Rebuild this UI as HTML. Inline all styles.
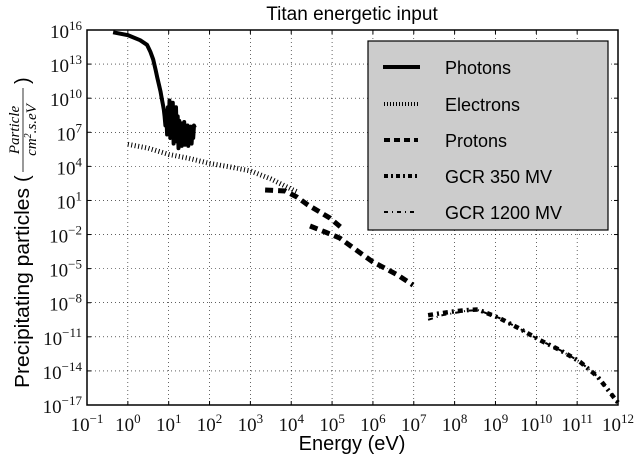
<!DOCTYPE html>
<html><head><meta charset="utf-8"><style>
body{margin:0;background:#fff}
svg{display:block}
text{font-family:"Liberation Sans",sans-serif}
.tk{font-family:"Liberation Serif",serif;font-size:19px;fill:#111}
.fr{font-family:"Liberation Serif",serif;font-style:italic;font-size:15px}
</style></head><body>
<svg id="c" width="635" height="461" viewBox="0 0 635 461">
<text x="352" y="20" font-size="19" text-anchor="middle">Titan energetic input</text>
<text x="352" y="450" font-size="20" text-anchor="middle">Energy (eV)</text>
<g transform="translate(22,210) rotate(-90)">
<text x="-178" y="7" font-size="20" textLength="200" lengthAdjust="spacingAndGlyphs">Precipitating particles</text>
<text x="28" y="7" font-size="20">(</text>
<text x="80" y="-3" class="fr" text-anchor="middle">Particle</text>
<line x1="38" y1="1" x2="122" y2="1" stroke="#000" stroke-width="0.8"/>
<text x="80" y="14" class="fr" text-anchor="middle">cm<tspan font-size="10" dy="-5">2</tspan><tspan dy="5">.s.eV</tspan></text>
<text x="126" y="7" font-size="20">)</text>
</g>
<g id="grid"></g><g id="series"></g><g id="axes"></g>
<g>
<rect x="368" y="41" width="240" height="189" fill="#cccccc" stroke="#000" stroke-width="1.2"/>
<g><line x1="383" y1="67" x2="420" y2="67" stroke="#000" stroke-width="4"/><text x="445" y="74" font-size="18">Photons</text></g>
<g><line x1="384" y1="104" x2="418" y2="104" stroke="#000" stroke-width="4" stroke-dasharray="1,2"/><text x="445" y="111" font-size="18">Electrons</text></g>
<g><line x1="384" y1="140" x2="418" y2="140" stroke="#000" stroke-width="4" stroke-dasharray="6,4"/><text x="445" y="147" font-size="18">Protons</text></g>
<g><line x1="384" y1="176" x2="418" y2="176" stroke="#000" stroke-width="4" stroke-dasharray="4,3,2,3"/><text x="445" y="183" font-size="18">GCR 350 MV</text></g>
<g><line x1="384" y1="212" x2="418" y2="212" stroke="#000" stroke-width="2" stroke-dasharray="4,4,1,4"/><text x="445" y="219" font-size="18">GCR 1200 MV</text></g>
</g>
</svg>
<script>
// data (log10 energy, log10 flux)
const xTicks=[-1,0,1,2,3,4,5,6,7,8,9,10,11,12];
const yTicks=[16,13,10,7,4,1,-2,-5,-8,-11,-14,-17];
const photonE=[-0.36,0,0.3,0.47,0.55,0.62,0.68,0.72,0.76,0.8,0.83,0.86,0.88,0.9,0.92,0.94,0.96,0.98,1.0,1.02,1.04,1.06,1.08,1.1,1.12,1.14,1.16,1.18,1.2,1.22,1.24,1.26,1.28,1.3,1.32,1.34,1.36,1.38,1.4,1.42,1.44,1.46,1.48,1.5,1.52,1.54,1.56,1.58,1.6,1.62,1.64];
const photonF=[15.8,15.55,15.1,14.7,14.1,13.4,12.5,11.8,11.2,10.6,10.0,9.4,9.0,8.4,7.6,8.9,6.8,9.2,7.0,9.8,6.5,9.0,7.3,9.6,6.0,8.6,6.9,9.2,6.2,8.4,5.6,8.0,6.6,7.8,5.8,7.4,6.4,7.9,5.9,7.2,6.5,7.6,5.8,7.0,6.3,7.5,6.0,7.2,6.5,7.6,7.4];
const electronE=[0,0.5,1,1.5,2,2.5,3,3.5,4,4.18];
const electronF=[5.94,5.6,5.05,4.7,4.26,3.95,3.6,2.9,2.0,1.7];
const protonE1=[3.36,3.85,4.14,4.41,4.70,4.95,5.24];
const protonF1=[1.92,1.83,1.30,0.6,-0.02,-0.55,-1.43];
const protonE2=[4.46,4.83,5.19,5.49,5.73,6.0,6.29,6.61,6.98];
const protonF2=[-1.25,-1.78,-2.31,-3.1,-3.72,-4.42,-4.95,-5.57,-6.45];
const gcr350E=[7.35,7.7,8.0,8.3,8.57,9.1,9.6,10.09,10.6,11.07,11.5,12.0];
const gcr350F=[-9.1,-8.9,-8.75,-8.65,-8.6,-9.35,-10.3,-11.3,-12.2,-13.2,-14.5,-16.8];
const gcr1200E=[7.35,7.7,8.0,8.3,8.57,9.1,9.6,10.09,10.6,11.07,11.5,12.0];
const gcr1200F=[-9.5,-9.1,-8.9,-8.7,-8.65,-9.35,-10.3,-11.3,-12.2,-13.2,-14.5,-16.8];

const L=87,R=618,T=30,B=405;
const sx=v=>L+(v-(-1))/13*(R-L);
const sy=v=>T+(16-v)/33*(B-T);
const NS="http://www.w3.org/2000/svg";
function mk(tag,attrs,parent){const e=document.createElementNS(NS,tag);for(const k in attrs)e.setAttribute(k,attrs[k]);parent.appendChild(e);return e;}
const grid=document.getElementById('grid'),axes=document.getElementById('axes'),ser=document.getElementById('series');
xTicks.forEach(t=>{
 const x=sx(t);
 const g=mk('line',{x1:x,y1:T,x2:x,y2:B,stroke:'#000','stroke-width':0.6,'stroke-dasharray':'1,3'},grid);
 
 
 mk('line',{x1:x,y1:B,x2:x,y2:B-4,stroke:'#000'},axes);
 mk('line',{x1:x,y1:T,x2:x,y2:T+4,stroke:'#000'},axes);
 const tx=mk('text',{x:x,y:431,'text-anchor':'middle',class:'tk'},axes);
 
 
 tx.innerHTML='10<tspan font-size="13" dy="-8">'+(t<0?'−'+(-t):t)+'</tspan>';
});
yTicks.forEach(t=>{
 const y=sy(t);
 const g=mk('line',{x1:L,y1:y,x2:R,y2:y,stroke:'#000','stroke-width':0.6,'stroke-dasharray':'1,3'},grid);
 
 
 mk('line',{x1:L,y1:y,x2:L+4,y2:y,stroke:'#000'},axes);
 mk('line',{x1:R,y1:y,x2:R-4,y2:y,stroke:'#000'},axes);
 const tx=mk('text',{x:82,y:y+8,'text-anchor':'end',class:'tk'},axes);
 
 
 tx.innerHTML='10<tspan font-size="13" dy="-8">'+(t<0?'−'+(-t):t)+'</tspan>';
});
const fr=mk('rect',{x:L,y:T,width:R-L,height:B-T,fill:'none',stroke:'#000','stroke-width':1.5},axes);


function line(xs,ys,style,name){
 const d=xs.map((v,i)=>(i?'L':'M')+sx(v).toFixed(1)+','+sy(ys[i]).toFixed(1)).join('');
 const p=mk('path',Object.assign({d:d,fill:'none',stroke:'#000'},style),ser);
 
 
}
line(electronE,electronF,{'stroke-width':5,'stroke-dasharray':'1,2.5'},'electrons-line');
line(photonE,photonF,{'stroke-width':4,'stroke-linejoin':'round'},'photons-line');
line(protonE1,protonF1,{'stroke-width':5,'stroke-dasharray':'8,5'},'protons-line-1');
line(protonE2,protonF2,{'stroke-width':5,'stroke-dasharray':'8,5'},'protons-line-2');
line(gcr350E,gcr350F,{'stroke-width':4.5,'stroke-dasharray':'5,4,2,4'},'gcr-350-line');
line(gcr1200E,gcr1200F,{'stroke-width':2,'stroke-dasharray':'5,4,1,4'},'gcr-1200-line');
</script>
</body></html>
